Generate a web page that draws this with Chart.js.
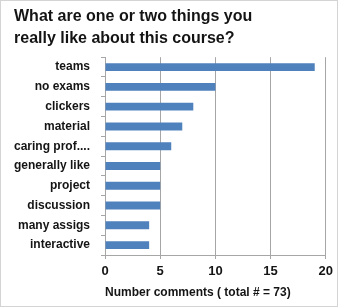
<!DOCTYPE html>
<html>
<head>
<meta charset="utf-8">
<script src="https://cdn.jsdelivr.net/npm/chart.js@4.4.1/dist/chart.umd.min.js"></script>
<style>
  html, body { margin: 0; padding: 0; background: #fff; }
  canvas { display: block; }
</style>
</head>
<body>
<canvas id="likeChart" width="338" height="307"></canvas>
<script>
// data
const categories = ["teams", "no exams", "clickers", "material", "caring prof....",
  "generally like", "project", "discussion", "many assigs", "interactive"];
const comments = [19, 10, 8, 7, 6, 5, 5, 5, 4, 4];
const xTicks = [0, 5, 10, 15, 20];

const textColor = "#141414";
const gridColor = "#a6a6a6";
const labelFont = "'Liberation Sans', Arial, sans-serif";

// light frame round the picture
const framePlugin = {
  id: "frame",
  beforeDraw(chart) {
    const c = chart.ctx;
    c.save();
    c.fillStyle = "#ffffff";
    c.fillRect(0, 0, chart.width, chart.height);
    c.strokeStyle = "#d4d4d4";
    c.lineWidth = 1;
    c.strokeRect(0.5, 0.5, chart.width - 1, chart.height - 1);
    c.restore();
  },
};

new Chart(document.getElementById("likeChart"), {
  type: "bar",
  data: {
    labels: categories,
    datasets: [{
      data: comments,
      backgroundColor: "#4f81bd",
      borderWidth: 0,
      barPercentage: 0.4,
      categoryPercentage: 1.0,
    }],
  },
  options: {
    indexAxis: "y",
    responsive: false,
    animation: false,
    layout: { padding: { left: 14, right: 10, top: 0, bottom: 0 } },
    plugins: {
      legend: { display: false },
      tooltip: { enabled: false },
      title: {
        display: true,
        text: ["What are one or two things you", "really like about this course?"],
        align: "start",
        color: textColor,
        font: { family: labelFont, size: 16, weight: "bold", lineHeight: 1.35 },
        padding: { top: 6, bottom: 8 },
      },
    },
    scales: {
      x: {
        min: 0,
        max: 20,
        afterBuildTicks(scale) {
          scale.ticks = xTicks.map((v) => ({ value: v }));
        },
        afterFit(scale) { scale.height = 52; },
        grid: { color: gridColor, tickLength: 4, tickColor: gridColor },
        border: { display: true, color: gridColor },
        ticks: {
          color: textColor,
          padding: 5,
          font: { family: labelFont, size: 13, weight: "bold" },
        },
        title: {
          display: true,
          text: "Number comments ( total # = 73)",
          align: "start",
          color: textColor,
          font: { family: labelFont, size: 12, weight: "bold" },
          padding: { top: 0, bottom: 7 },
        },
      },
      y: {
        afterFit(scale) { scale.width = 91; },
        grid: { drawOnChartArea: false, tickLength: 4, color: gridColor, offset: true },
        border: { display: true, color: gridColor },
        ticks: {
          color: textColor,
          padding: 11,
          font: { family: labelFont, size: 12, weight: "bold" },
        },
      },
    },
  },
  plugins: [framePlugin],
});
</script>
</body>
</html>
